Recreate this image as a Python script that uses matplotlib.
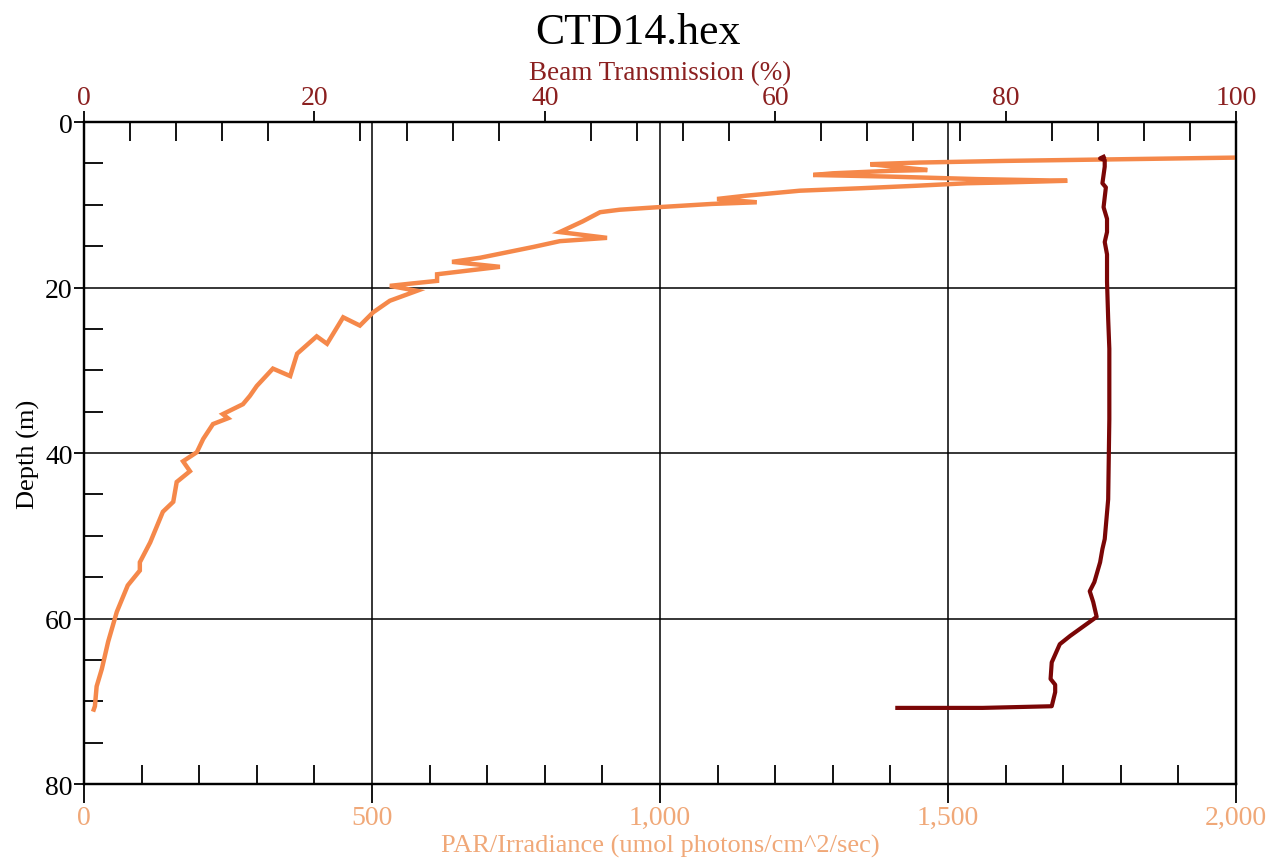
import matplotlib
matplotlib.use("Agg")
import matplotlib.pyplot as plt
from matplotlib.ticker import MultipleLocator, FuncFormatter

# PAR profile, surface to bottom
par_depth = [4.2, 4.3, 4.5, 4.7, 4.9, 5.1, 5.5, 5.8, 5.9, 6.2, 6.4, 6.6, 6.9, 7.1,
             7.3, 7.4, 7.7, 8.0, 8.3, 8.9, 9.3, 9.7, 9.9, 10.3, 10.6, 10.9, 12.0,
             13.3, 14.0, 14.4, 15.1, 16.4, 16.9, 17.5, 18.4, 19.2, 19.5, 19.8,
             20.4, 21.6, 23.0, 24.6, 23.6, 26.8, 25.9, 28.0, 30.7, 29.8, 31.9,
             33.1, 34.1, 35.3, 35.8, 36.5, 38.3, 39.9, 41.0, 42.2, 43.5, 45.9,
             47.1, 50.8, 53.2, 54.2, 56.0, 59.2, 62.8, 66.1, 68.2, 70.6, 71.0]
par_value = [2100, 2000, 1800, 1600, 1450, 1365, 1420, 1464, 1400, 1300, 1266, 1400,
             1550, 1707, 1600, 1533, 1446, 1350, 1243, 1150, 1099, 1168, 1090, 995,
             930, 896, 866, 826, 908, 826, 780, 688, 639, 722, 613, 613, 571, 531,
             578, 531, 502, 479, 450, 422, 404, 370, 358, 328, 300, 288, 276, 241,
             250, 224, 207, 196, 172, 184, 161, 155, 137, 115, 97, 97, 76, 57, 42,
             31, 22, 19, 17]

# Beam transmission profile
beam_depth = [4.2, 4.4, 4.6, 5.4, 7.4, 7.9, 10.3, 11.7, 13.3, 14.5, 16.0, 19.3,
              23.8, 27.4, 35.9, 45.6, 50.4, 51.6, 53.2, 55.6, 56.7, 58.0, 59.8,
              61.0, 62.1, 63.1, 65.3, 67.3, 68.0, 68.9, 70.6, 70.8, 70.8]
beam_value = [88.5, 88.2, 88.6, 88.6, 88.4, 88.7, 88.5, 88.8, 88.8, 88.6, 88.8,
              88.8, 88.9, 89.0, 89.0, 88.9, 88.6, 88.4, 88.2, 87.7, 87.3, 87.6,
              87.9, 86.7, 85.6, 84.7, 84.0, 83.9, 84.3, 84.3, 84.0, 78.0, 70.6]

orange = "#F5884A"
orange_lbl = "#F0A878"
red = "#7A0606"
red_lbl = "#8B2020"

plt.rcParams["font.family"] = ["Liberation Serif", "DejaVu Serif"]

fig = plt.figure(figsize=(12.76, 8.62), dpi=100)
ax = fig.add_axes([0.0658, 0.0893, 0.9029, 0.768])

ax.plot(par_value, par_depth, color=orange, lw=3.2, solid_joinstyle="miter", zorder=3)
ax.set_xlim(0, 2000)
ax.set_ylim(80, 0)

ax.xaxis.set_major_locator(MultipleLocator(500))
ax.xaxis.set_minor_locator(MultipleLocator(100))
ax.yaxis.set_major_locator(MultipleLocator(20))
ax.yaxis.set_minor_locator(MultipleLocator(5))
ax.xaxis.set_major_formatter(FuncFormatter(lambda v, p: f"{v:,.0f}"))
ax.grid(True, which="major", color="black", lw=1.1, zorder=1)

ax.tick_params(axis="x", which="major", direction="out", length=14, width=1.3,
               labelsize=20, labelcolor=orange_lbl, pad=1)
ax.tick_params(axis="x", which="minor", direction="in", length=14, width=1.3)
ax.tick_params(axis="y", which="major", direction="out", length=7, width=1.3,
               labelsize=20, pad=1)
ax.tick_params(axis="y", which="minor", direction="in", length=14, width=1.3)

ax.set_xlabel("PAR/Irradiance (umol photons/cm^2/sec)", fontsize=19,
              color=orange_lbl, labelpad=3)
ax.set_ylabel("Depth (m)", fontsize=19, labelpad=4)

ax2 = ax.twiny()
ax2.plot(beam_value, beam_depth, color=red, lw=3.0, zorder=4)
ax2.set_xlim(0, 100)
ax2.xaxis.set_major_locator(MultipleLocator(20))
ax2.xaxis.set_minor_locator(MultipleLocator(4))
ax2.tick_params(axis="x", which="major", direction="out", length=8, width=1.3,
                labelsize=20, labelcolor=red_lbl, pad=1)
ax2.tick_params(axis="x", which="minor", direction="in", length=14, width=1.3)
ax2.set_xlabel("Beam Transmission (%)", fontsize=19.5, color=red_lbl, labelpad=4)

for a in (ax, ax2):
    for s in a.spines.values():
        s.set_linewidth(1.6)
        s.set_color("black")

fig.suptitle("CTD14.hex", fontsize=31.5, y=0.985, va="top")

fig.savefig("out.png", dpi=100, facecolor="white")
